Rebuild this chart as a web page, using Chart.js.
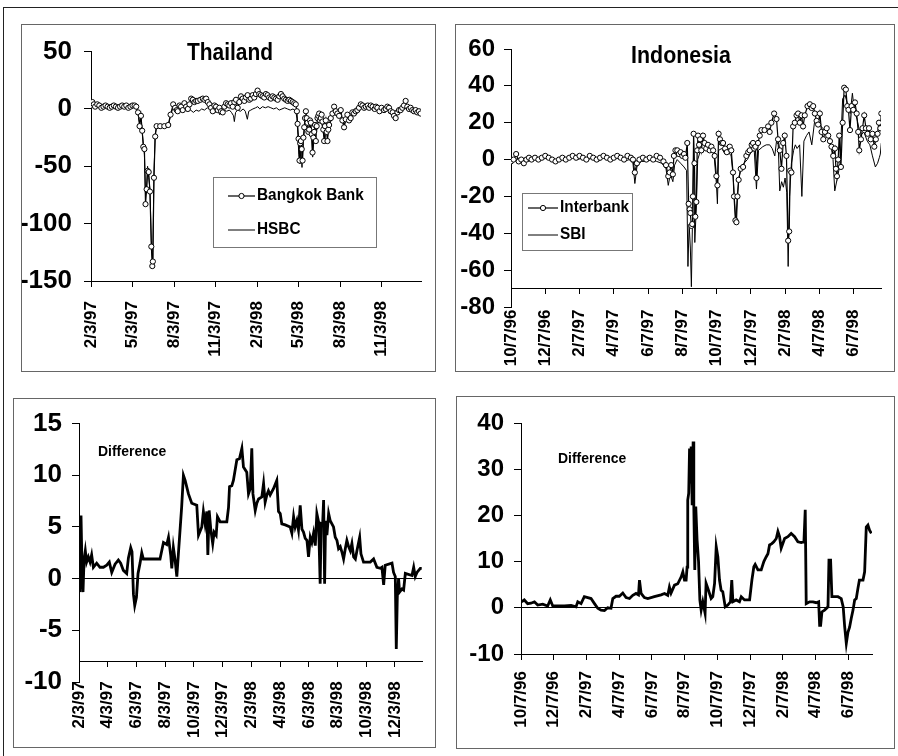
<!DOCTYPE html>
<html>
<head>
<meta charset="utf-8">
<script src="https://cdn.jsdelivr.net/npm/chart.js@4.4.1/dist/chart.umd.min.js"></script>
<style>
  html, body { margin: 0; padding: 0; background: #fff; }
  body { width: 898px; height: 756px; position: relative; overflow: hidden; }
  .frame { position: absolute; left: 3px; top: 7px; width: 920px; height: 780px;
           border-left: 1px solid #222; border-top: 1px solid #222; }
  .panel { position: absolute; box-sizing: border-box; border: 1px solid #666; pointer-events: none; }
  canvas { position: absolute; }
</style>
</head>
<body>
<div class="frame"></div>

<canvas id="thaiTop" width="414" height="347" style="left:21px;top:24px"></canvas>
<div class="panel" style="left:21px;top:24px;width:415px;height:348px"></div>

<canvas id="indoTop" width="440" height="347" style="left:455px;top:24px"></canvas>
<div class="panel" style="left:455px;top:24px;width:440px;height:348px"></div>

<canvas id="thaiDiff" width="422" height="349" style="left:13px;top:398px"></canvas>
<div class="panel" style="left:13px;top:398px;width:423px;height:350px"></div>

<canvas id="indoDiff" width="438" height="352" style="left:456px;top:396px"></canvas>
<div class="panel" style="left:456px;top:396px;width:439px;height:353px"></div>

<script>
// x values are months elapsed since the first tick date of each axis

// ---- Thailand: daily spreads, 2/3/97 onwards ----
const thaiTickMonths = [0, 3, 6, 9, 12, 15, 18, 21];
const thaiTickLabels = ['2/3/97', '5/3/97', '8/3/97', '11/3/97', '2/3/98', '5/3/98', '8/3/98', '11/3/98'];

const bangkokBank = [
  [0,3],[0.1,6],[0.2,4],[0.3,2],[0.45,4],[0.6,3],[0.75,1],[0.9,2],[1.05,3],[1.2,2],[1.35,1],[1.5,2],
  [1.65,3],[1.8,2],[1.95,1],[2.1,2],[2.25,3],[2.4,2],[2.55,3],[2.7,1],[2.85,2],[3.0,3],[3.15,3],[3.27,2],
  [3.4,-3],[3.51,-15],[3.61,-6],[3.7,-19],[3.78,-33],[3.86,-35],[3.94,-83],[4.02,-70],[4.09,-54],[4.17,-55],
  [4.26,-72],[4.36,-120],[4.43,-137],[4.47,-133],[4.55,-60],[4.64,-24],[4.74,-15],[5.0,-15],[5.3,-15],
  [5.58,-14],[5.75,-5],[5.94,4],[6.08,1],[6.2,-1],[6.27,-2],[6.4,3],[6.51,2],[6.63,-1],[6.75,5],[6.88,2],
  [7.0,0],[7.12,4],[7.24,9],[7.36,8],[7.48,6],[7.6,7],[7.72,7],[7.9,8],[8.08,9],[8.2,8],[8.32,9],[8.44,6],
  [8.56,4],[8.68,1],[8.8,-2],[8.92,3],[9.04,2],[9.16,-1],[9.28,1],[9.4,-2],[9.52,-3],[9.64,2],[9.76,5],
  [9.88,4],[10.0,3],[10.12,5],[10.24,2],[10.36,6],[10.48,8],[10.6,1],[10.72,6],[10.84,11],[10.96,9],
  [11.08,7],[11.2,10],[11.32,12],[11.44,8],[11.56,9],[11.68,12],[11.8,10],[11.92,13],[12.04,16],[12.16,13],
  [12.28,12],[12.4,11],[12.52,10],[12.64,13],[12.76,12],[12.88,10],[13.0,9],[13.12,11],[13.25,10],[13.37,9],
  [13.49,8],[13.61,11],[13.73,13],[13.85,11],[13.97,9],[14.09,8],[14.21,7],[14.33,8],[14.45,7],[14.57,6],
  [14.69,5],[14.8,4],[14.88,-2],[14.93,-13],[15.0,-26],[15.07,-45],[15.12,-30],[15.17,-28],[15.23,-35],
  [15.29,-45],[15.35,-25],[15.41,-16],[15.47,-8],[15.53,-2],[15.59,-8],[15.65,-12],[15.71,-20],[15.77,-18],
  [15.83,-10],[15.89,-12],[15.95,-22],[16.01,-38],[16.07,-25],[16.13,-20],[16.19,-14],[16.25,-28],[16.31,-15],
  [16.37,-8],[16.43,-6],[16.49,-4],[16.55,-10],[16.61,-8],[16.67,-5],[16.73,-11],[16.79,-18],[16.85,-28],
  [16.91,-15],[16.97,-10],[17.03,-20],[17.09,-28],[17.15,-18],[17.21,-14],[17.33,-8],[17.45,-4],[17.57,2],
  [17.69,-2],[17.81,-4],[17.93,-6],[18.05,-1],[18.17,-10],[18.29,-16],[18.41,-9],[18.53,-5],[18.65,-10],
  [18.77,-8],[18.89,-3],[19.01,-4],[19.13,-2],[19.25,-1],[19.37,1],[19.5,4],[19.62,3],[19.74,1],[19.86,2],
  [20.0,3],[20.1,1],[20.22,3],[20.35,2],[20.5,0],[20.6,2],[20.7,1],[20.85,-2],[21.0,1],[21.18,-1],[21.3,0],
  [21.42,2],[21.54,1],[21.66,-2],[21.8,-3],[21.9,-6],[22.02,-8],[22.15,-3],[22.26,-1],[22.38,-1],[22.5,1],
  [22.62,3],[22.74,7],[22.86,2],[22.98,0],[23.1,1],[23.22,-1],[23.34,-2],[23.46,-1],[23.58,-3],[23.7,-2],[23.82,-4]
];

const hsbc = [
  [0,2],[0.15,4],[0.3,1],[0.5,2],[0.7,1],[0.9,2],[1.1,1],[1.3,2],[1.5,1],[1.7,2],[1.9,1],[2.1,2],[2.3,1],
  [2.5,2],[2.7,1],[2.9,2],[3.1,2],[3.27,1],[3.4,-4],[3.51,-12],[3.61,-8],[3.7,-20],[3.78,-30],[3.86,-40],
  [3.94,-75],[4.02,-68],[4.09,-50],[4.17,-60],[4.26,-70],[4.36,-115],[4.43,-130],[4.47,-125],[4.55,-55],
  [4.64,-22],[4.74,-15],[5.0,-15],[5.3,-15],[5.58,-15],[5.75,-6],[5.94,2],[6.08,0],[6.2,-2],[6.35,-3],
  [6.5,-1],[6.65,-3],[6.8,-1],[7.0,-2],[7.2,-1],[7.4,-3],[7.6,-1],[7.8,-2],[8.0,0],[8.2,-1],[8.4,1],[8.6,0],
  [8.8,-2],[9.0,-3],[9.15,-1],[9.3,-5],[9.45,-2],[9.6,-1],[9.8,-2],[10.0,-1],[10.15,-3],[10.3,-6],[10.36,-11],
  [10.45,-3],[10.6,-1],[10.8,-2],[11.0,0],[11.15,-2],[11.3,-9],[11.4,-2],[11.55,-1],[11.7,0],[11.9,1],
  [12.05,2],[12.2,0],[12.4,2],[12.6,1],[12.8,2],[13.0,1],[13.2,0],[13.4,1],[13.6,-1],[13.8,0],[14.0,1],
  [14.2,0],[14.4,-1],[14.6,0],[14.8,-2],[14.88,-8],[14.95,-22],[15.02,-40],[15.1,-48],[15.17,-35],[15.25,-51],
  [15.33,-30],[15.41,-20],[15.5,-8],[15.58,-6],[15.66,-15],[15.75,-20],[15.85,-14],[15.95,-25],[16.02,-42],
  [16.1,-28],[16.2,-22],[16.3,-20],[16.4,-12],[16.5,-8],[16.6,-10],[16.7,-14],[16.8,-22],[16.9,-26],[17.0,-15],
  [17.1,-24],[17.2,-16],[17.35,-10],[17.5,-5],[17.6,-2],[17.75,-5],[17.9,-7],[18.05,-3],[18.2,-12],[18.3,-14],
  [18.45,-8],[18.6,-7],[18.75,-9],[18.9,-5],[19.05,-5],[19.2,-3],[19.35,-1],[19.5,2],[19.7,1],[19.9,2],
  [20.1,0],[20.3,1],[20.5,-1],[20.7,0],[20.9,-2],[21.1,0],[21.3,-1],[21.5,0],[21.7,-2],[21.9,-4],[22.05,-6],
  [22.2,-2],[22.4,0],[22.6,1],[22.8,0],[23.0,0],[23.2,-2],[23.4,-2],[23.6,-3],[23.85,-3]
];

const thaiDiffTickMonths = [0, 2, 4, 6, 8, 10, 12, 14, 16, 18, 20, 22];
const thaiDiffTickLabels = ['2/3/97', '4/3/97', '6/3/97', '8/3/97', '10/3/97', '12/3/97',
                            '2/3/98', '4/3/98', '6/3/98', '8/3/98', '10/3/98', '12/3/98'];

const thaiDifference = [
  [0,1.1],[0.07,-1.3],[0.14,6.1],[0.21,1.1],[0.28,-1.3],[0.35,1.8],[0.44,2.7],[0.53,1.6],[0.65,2.1],
  [0.77,1.6],[0.88,2.3],[1.0,1.1],[1.23,1.5],[1.46,1.1],[1.7,1.1],[1.93,1.3],[2.11,1.6],[2.28,0.6],
  [2.51,1.4],[2.74,1.8],[2.9,1.5],[3.09,0.8],[3.32,0.5],[3.44,2.0],[3.6,3.0],[3.69,2.6],[3.79,-1.5],
  [3.88,-2.6],[4.0,-1.8],[4.11,0.5],[4.25,1.5],[4.37,2.5],[4.48,1.9],[4.72,1.9],[5.18,1.9],[5.64,1.9],
  [5.88,3.5],[6.11,3.3],[6.23,4.0],[6.39,2.2],[6.46,1.0],[6.57,3.0],[6.69,1.8],[6.81,0.2],[6.92,2.4],
  [7.15,7.0],[7.27,10.0],[7.39,9.5],[7.62,8.2],[7.85,7.3],[8.2,7.1],[8.32,4.2],[8.55,5.0],[8.66,6.5],
  [8.78,5.3],[8.9,6.5],[8.97,2.3],[9.06,6.6],[9.18,4.7],[9.31,3.4],[9.41,4.5],[9.55,4.2],[9.64,6.0],
  [9.83,5.5],[10.29,5.5],[10.41,6.9],[10.48,8.9],[10.64,9.0],[10.75,9.5],[10.99,11.5],[11.17,11.6],
  [11.34,12.6],[11.45,10.8],[11.68,10.3],[11.8,8.2],[11.92,8.7],[12.03,12.6],[12.11,8.2],[12.27,6.6],
  [12.38,7.3],[12.5,7.7],[12.73,7.9],[12.85,9.2],[12.96,7.4],[13.08,8.1],[13.19,8.5],[13.31,8.1],
  [13.54,8.7],[13.77,9.5],[13.89,6.5],[14.01,6.3],[14.12,5.3],[14.36,5.2],[14.7,5.0],[14.82,4.4],
  [14.94,6.0],[15.05,5.0],[15.17,5.6],[15.28,4.7],[15.4,7.1],[15.52,4.8],[15.63,4.5],[15.75,3.9],
  [15.87,3.7],[15.98,2.1],[16.1,4.0],[16.21,3.5],[16.33,4.4],[16.45,3.2],[16.56,6.3],[16.68,5.5],
  [16.79,-0.5],[16.86,5.3],[16.96,5.2],[17.03,7.6],[17.1,-0.5],[17.17,5.6],[17.26,4.2],[17.38,6.3],
  [17.49,5.6],[17.72,5.0],[17.84,4.0],[17.96,3.7],[18.07,2.9],[18.19,3.1],[18.3,2.6],[18.42,1.9],
  [18.54,2.9],[18.65,3.7],[18.77,3.1],[18.89,2.7],[19.0,3.4],[19.12,2.1],[19.24,1.9],[19.35,2.7],
  [19.54,4.0],[19.63,2.4],[19.81,1.6],[20.28,1.6],[20.51,1.9],[20.74,1.1],[20.98,1.0],[21.09,1.1],
  [21.21,-0.6],[21.32,1.3],[21.79,1.5],[21.9,0.6],[22.02,0.2],[22.09,-6.8],[22.16,-1.8],[22.25,0],
  [22.32,-1.3],[22.49,-1.0],[22.6,-1.1],[22.72,0.5],[23.18,0.3],[23.3,1.1],[23.41,0.2],[23.53,0.6],
  [23.76,1.0],[23.86,1.0]
];

// ---- Indonesia: daily spreads, 10/7/96 onwards ----
const indoTickMonths = [0, 2, 4, 6, 8, 10, 12, 14, 16, 18, 20];
const indoTickLabels = ['10/7/96', '12/7/96', '2/7/97', '4/7/97', '6/7/97', '8/7/97',
                        '10/7/97', '12/7/97', '2/7/98', '4/7/98', '6/7/98'];

const interbank = [
  [0,-1],[0.15,0],[0.3,3],[0.45,-1],[0.6,0],[0.75,-2],[0.9,0],[1.05,1],[1.2,0],[1.4,1],[1.6,0],[1.8,1],
  [2.0,2],[2.2,1],[2.4,0],[2.6,-1],[2.8,0],[3.0,1],[3.2,0],[3.4,1],[3.6,2],[3.8,1],[4.0,2],[4.2,1],[4.4,0],
  [4.6,2],[4.8,1],[5.0,0],[5.2,1],[5.4,2],[5.6,1],[5.8,0],[6.0,1],[6.2,2],[6.4,1],[6.6,0],[6.8,2],[7.0,1],
  [7.12,0],[7.23,-7],[7.35,-2],[7.5,0],[7.7,1],[7.9,0],[8.1,1],[8.3,0],[8.5,2],[8.7,1],[8.9,-1],[9.05,-3],
  [9.18,-9],[9.26,-7],[9.35,-3],[9.45,-8],[9.51,2],[9.6,5],[9.71,5],[9.8,3],[9.9,4],[10.0,2],[10.1,3],
  [10.18,1],[10.29,9],[10.37,-24],[10.43,-27],[10.47,-29],[10.53,-36],[10.58,-35],[10.62,-20],[10.66,14],
  [10.71,-2],[10.76,-31],[10.82,-23],[10.87,5],[10.92,13],[10.98,8],[11.04,11],[11.11,5],[11.21,13],[11.3,9],
  [11.4,6],[11.5,8],[11.6,5],[11.7,7],[11.8,5],[11.89,2],[11.99,-9],[12.05,-14],[12.12,14],[12.2,11],
  [12.3,9],[12.38,9],[12.5,6],[12.6,4],[12.77,7],[12.86,5],[12.96,-7],[13.02,-20],[13.1,-33],[13.16,-34],
  [13.22,-20],[13.29,-11],[13.41,-5],[13.55,-4],[13.74,2],[13.85,4],[13.94,5],[14.05,8],[14.13,9],[14.2,6],
  [14.27,7],[14.33,-10],[14.42,9],[14.52,13],[14.62,16],[14.8,16],[15.01,18],[15.1,15],[15.2,20],[15.36,25],
  [15.5,22],[15.59,11],[15.69,5],[15.79,-5],[15.89,9],[15.98,13],[16.08,2],[16.18,-44],[16.24,-39],[16.3,-6],
  [16.37,-7],[16.47,18],[16.57,20],[16.67,24],[16.76,25],[16.86,20],[16.96,24],[17.05,18],[17.15,24],
  [17.31,29],[17.45,30],[17.55,28],[17.64,29],[17.74,25],[17.84,21],[17.93,19],[18.03,25],[18.13,15],
  [18.23,11],[18.33,15],[18.43,17],[18.52,13],[18.62,10],[18.71,7],[18.81,2],[18.91,6],[18.97,-5],[19.03,-9],
  [19.1,0],[19.16,13],[19.26,-4],[19.36,20],[19.45,39],[19.55,38],[19.63,29],[19.7,27],[19.79,16],[19.88,29],
  [19.98,27],[20.08,31],[20.18,25],[20.27,15],[20.33,5],[20.43,11],[20.52,17],[20.62,24],[20.72,17],
  [20.82,14],[20.9,17],[21.0,11],[21.1,14],[21.21,7],[21.3,11],[21.4,14],[21.48,20],[21.56,17],[21.62,25]
];

const sbi = [
  [0,0],[0.2,-1],[0.4,1],[0.6,-1],[0.8,0],[1.0,-1],[1.2,0],[1.5,1],[1.8,0],[2.1,1],[2.4,0],[2.7,-1],[3.0,0],
  [3.3,1],[3.6,1],[3.9,0],[4.2,1],[4.5,0],[4.8,1],[5.1,-1],[5.4,1],[5.7,0],[6.0,0],[6.3,1],[6.6,-1],[6.9,0],
  [7.12,-2],[7.23,-13],[7.35,-4],[7.6,-1],[7.9,-1],[8.2,0],[8.5,-1],[8.8,-2],[9.05,-5],[9.18,-14],[9.3,-8],
  [9.45,-12],[9.55,-3],[9.7,0],[9.9,-2],[10.1,-4],[10.25,-6],[10.33,-58],[10.4,-35],[10.47,-48],[10.53,-69],
  [10.6,-30],[10.66,5],[10.73,-45],[10.82,-25],[10.9,0],[11.0,3],[11.1,6],[11.2,4],[11.35,6],[11.5,4],
  [11.7,5],[11.85,3],[11.99,-13],[12.05,-24],[12.12,5],[12.3,6],[12.5,3],[12.7,4],[12.85,2],[12.96,-8],
  [13.05,-22],[13.12,-33],[13.2,-22],[13.3,-10],[13.45,-4],[13.6,-2],[13.8,0],[14.0,4],[14.2,5],[14.33,-16],
  [14.45,5],[14.7,7],[14.9,8],[15.1,8],[15.25,6],[15.4,2],[15.5,10],[15.6,8],[15.69,-17],[15.8,-12],
  [15.9,-15],[16.0,-10],[16.1,-18],[16.18,-58],[16.26,-20],[16.37,-2],[16.5,5],[16.6,8],[16.7,6],[16.85,8],
  [16.98,-20],[17.1,10],[17.25,13],[17.4,15],[17.56,8],[17.74,22],[17.9,20],[18.1,18],[18.3,16],[18.52,12],
  [18.7,7],[18.8,0],[18.9,-17],[19.05,-10],[19.2,-3],[19.36,33],[19.5,35],[19.65,30],[19.8,25],[19.93,36],
  [20.05,26],[20.2,22],[20.4,13],[20.6,15],[20.8,10],[20.95,8],[21.1,2],[21.27,-4],[21.4,-2],[21.5,1],
  [21.56,3],[21.62,9]
];

const indoDifference = [
  [0.04,1.3],[0.2,1.7],[0.41,0.9],[0.61,1.0],[0.82,1.3],[1.02,0.6],[1.33,0.8],[1.63,0.4],[1.79,1.7],
  [1.94,0.4],[2.24,0.4],[2.65,0.4],[3.06,0.5],[3.36,0.2],[3.47,1.3],[3.67,0.9],[3.87,2.4],[4.08,2.2],
  [4.28,2.0],[4.49,0.9],[4.69,-0.1],[4.89,-0.5],[5.1,-0.6],[5.3,0],[5.5,-0.1],[5.61,2.0],[5.81,2.5],
  [6.01,2.5],[6.22,3.2],[6.42,2.2],[6.63,2.0],[6.83,2.7],[7.03,3.1],[7.18,2.8],[7.24,6.0],[7.34,3.1],
  [7.54,2.2],[7.75,2.0],[8.15,2.4],[8.56,2.8],[8.77,3.1],[8.97,2.7],[9.07,4.5],[9.17,3.2],[9.38,4.9],
  [9.58,5.2],[9.79,6.7],[9.89,7.8],[9.99,6.0],[10.09,6.0],[10.15,8.8],[10.19,23.3],[10.25,24.8],
  [10.3,34.5],[10.36,26.9],[10.4,34.9],[10.46,22.2],[10.52,36.0],[10.56,22.2],[10.62,8.2],[10.68,21.9],
  [10.76,14.7],[10.85,10.0],[10.93,1.7],[11.01,-0.5],[11.11,1.3],[11.25,-1.2],[11.31,5.3],[11.42,4.2],
  [11.52,3.1],[11.62,2.0],[11.72,2.4],[11.83,5.3],[11.93,13.2],[12.03,11.0],[12.13,6.0],[12.23,3.8],
  [12.33,3.5],[12.48,0.2],[12.64,0.6],[12.8,1.3],[12.88,6.0],[12.95,1.3],[13.15,1.7],[13.35,1.3],
  [13.46,2.4],[13.66,1.7],[13.97,1.7],[14.11,6.0],[14.23,8.9],[14.31,9.4],[14.48,8.2],[14.68,8.2],
  [14.84,10.0],[14.98,11.0],[15.09,11.7],[15.19,13.6],[15.33,13.9],[15.45,14.3],[15.6,15.0],[15.7,16.5],
  [15.8,15.4],[15.9,12.9],[16.11,15.0],[16.31,15.4],[16.51,16.1],[16.72,15.4],[16.92,14.3],[17.13,14.1],
  [17.29,14.3],[17.37,21.2],[17.43,0.9],[17.64,1.3],[17.84,1.3],[18.04,1.1],[18.19,1.3],[18.25,-3.8],
  [18.31,-3.8],[18.39,-0.9],[18.55,-0.5],[18.76,0.2],[18.82,10.3],[18.92,10.3],[19.0,2.4],[19.37,2.4],
  [19.57,2.0],[19.69,0.2],[19.78,-4.1],[19.88,-7.7],[19.98,-5.3],[20.08,-4.2],[20.18,-2.3],[20.29,-0.5],
  [20.39,1.7],[20.49,2.0],[20.59,4.2],[20.68,6.0],[20.9,6.0],[21.0,7.8],[21.1,17.5],[21.2,17.9],
  [21.3,16.8],[21.41,16.1]
];

// ---------------------------------------------------------------------------
const FAMILY = "'Liberation Sans', Arial, Helvetica, sans-serif";
Chart.defaults.font.family = FAMILY;
Chart.defaults.color = '#000';

// Titles, notes and an inset legend drawn inside the plot area
const panelDecor = {
  id: 'panelDecor',
  afterDatasetsDraw(chart, args, opts) {
    const ctx = chart.ctx;
    ctx.save();
    ctx.fillStyle = '#000';
    ctx.textBaseline = 'middle';
    (opts.texts || []).forEach(t => {
      ctx.save();
      ctx.font = t.font;
      ctx.textAlign = t.align || 'left';
      ctx.translate(t.x, t.y);
      ctx.scale(t.sx || 1, 1);
      ctx.fillText(t.text, 0, 0);
      ctx.restore();
    });
    const lg = opts.legend;
    if (lg) {
      ctx.fillStyle = '#fff';
      ctx.fillRect(lg.x, lg.y, lg.w, lg.h);
      ctx.strokeStyle = '#777';
      ctx.lineWidth = 1;
      ctx.strokeRect(lg.x + 0.5, lg.y + 0.5, lg.w, lg.h);
      chart.data.datasets.forEach((ds, i) => {
        const y = lg.rows[i];
        ctx.strokeStyle = ds.borderColor;
        ctx.lineWidth = ds.borderWidth;
        ctx.beginPath();
        ctx.moveTo(lg.x0, y);
        ctx.lineTo(lg.x1, y);
        ctx.stroke();
        if (ds.pointRadius > 0) {
          ctx.beginPath();
          ctx.arc((lg.x0 + lg.x1) / 2, y, ds.pointRadius, 0, Math.PI * 2);
          ctx.fillStyle = ds.pointBackgroundColor;
          ctx.fill();
          ctx.lineWidth = ds.pointBorderWidth;
          ctx.strokeStyle = ds.pointBorderColor;
          ctx.stroke();
        }
        ctx.save();
        ctx.fillStyle = '#000';
        ctx.font = lg.font;
        ctx.textAlign = 'left';
        ctx.translate(lg.textX, y);
        ctx.scale(lg.sx || 1, 1);
        ctx.fillText(ds.label, 0, 0);
        ctx.restore();
      });
    }
    ctx.restore();
  }
};

function markedSeries(label, data) {
  return { label, data, borderColor: '#000', borderWidth: 1.2, tension: 0,
           pointRadius: 2.6, pointBorderWidth: 1, pointBackgroundColor: '#fff',
           pointBorderColor: '#000', pointHoverRadius: 2.6 };
}
function plainSeries(label, data, width) {
  return { label, data, borderColor: '#000', borderWidth: width, tension: 0,
           pointRadius: 0, pointHoverRadius: 0 };
}

function buildPanel(id, p) {
  return new Chart(document.getElementById(id), {
    type: 'line',
    data: { datasets: p.datasets },
    options: {
      responsive: false,
      animation: false,
      devicePixelRatio: 1,
      events: [],
      layout: { padding: p.padding },
      plugins: { legend: { display: false }, tooltip: { enabled: false }, panelDecor: p.decor },
      scales: {
        x: {
          type: 'linear',
          min: 0,
          max: p.xMax,
          position: { y: p.xAxisAt },
          afterBuildTicks: s => { s.ticks = p.tickMonths.map(v => ({ value: v })); },
          ticks: {
            autoSkip: false, minRotation: 90, maxRotation: 90, padding: p.xPad,
            font: { size: 17, weight: 'bold' },
            callback: (v, i) => p.tickLabels[i]
          },
          grid: { drawOnChartArea: false, tickLength: 5, tickColor: '#000' },
          border: { color: '#000', width: 1 }
        },
        y: {
          type: 'linear',
          min: p.yMin,
          max: p.yMax,
          afterFit: s => { s.width = p.yWidth; },
          ticks: { stepSize: p.yStep, padding: p.yPad, font: { size: p.ySize, weight: 'bold' } },
          grid: {
            drawOnChartArea: !!p.zeroLine,
            color: c => (p.zeroLine && c.tick && c.tick.value === 0) ? '#000' : 'rgba(0,0,0,0)',
            lineWidth: 1,
            tickLength: 7,
            tickColor: '#000'
          },
          border: { color: '#000', width: 1 }
        }
      }
    },
    plugins: [panelDecor]
  });
}

buildPanel('thaiTop', {
  datasets: [markedSeries('Bangkok Bank', bangkokBank), plainSeries('HSBC', hsbc, 1)],
  padding: { left: 0, top: 25, right: 14, bottom: 90 },
  xMax: 23.85, xAxisAt: -150, xPad: 15,
  tickMonths: thaiTickMonths, tickLabels: thaiTickLabels,
  yMin: -150, yMax: 50, yStep: 50, yWidth: 70, ySize: 26, yPad: 12,
  decor: {
    texts: [{ text: 'Thailand', x: 209, y: 30, font: 'bold 23px ' + FAMILY, align: 'center', sx: 0.91 }],
    legend: { x: 192, y: 153, w: 163, h: 70, rows: [172, 206], x0: 207, x1: 234, textX: 236,
              font: 'bold 16px ' + FAMILY, sx: 0.96 }
  }
});

buildPanel('indoTop', {
  datasets: [markedSeries('Interbank', interbank), plainSeries('SBI', sbi, 1)],
  padding: { left: 0, top: 25, right: 14, bottom: 64 },
  xMax: 21.6, xAxisAt: -70, xPad: 16,
  tickMonths: indoTickMonths, tickLabels: indoTickLabels,
  yMin: -80, yMax: 60, yStep: 20, yWidth: 56, ySize: 24, yPad: 9,
  decor: {
    texts: [{ text: 'Indonesia', x: 226, y: 33, font: 'bold 23px ' + FAMILY, align: 'center', sx: 0.93 }],
    legend: { x: 67, y: 169, w: 110, h: 57, rows: [184, 211], x0: 73, x1: 103, textX: 105,
              font: 'bold 16px ' + FAMILY, sx: 0.96 }
  }
});

buildPanel('thaiDiff', {
  datasets: [plainSeries('Difference', thaiDifference, 2.8)],
  padding: { left: 0, top: 25, right: 13, bottom: 65 },
  xMax: 23.88, xAxisAt: -8, xPad: 15,
  tickMonths: thaiDiffTickMonths, tickLabels: thaiDiffTickLabels,
  yMin: -10, yMax: 15, yStep: 5, yWidth: 66, ySize: 26, yPad: 10,
  zeroLine: true,
  decor: {
    texts: [{ text: 'Difference', x: 85, y: 54, font: 'bold 15px ' + FAMILY, align: 'left', sx: 0.93 }]
  }
});

buildPanel('indoDiff', {
  datasets: [plainSeries('Difference', indoDifference, 2.8)],
  padding: { left: 0, top: 27, right: 22, bottom: 94 },
  xMax: 21.45, xAxisAt: -10, xPad: 12,
  tickMonths: indoTickMonths, tickLabels: indoTickLabels,
  yMin: -10, yMax: 40, yStep: 10, yWidth: 65, ySize: 24, yPad: 10,
  zeroLine: true,
  decor: {
    texts: [{ text: 'Difference', x: 102, y: 63, font: 'bold 15px ' + FAMILY, align: 'left', sx: 0.93 }]
  }
});
</script>
</body>
</html>
